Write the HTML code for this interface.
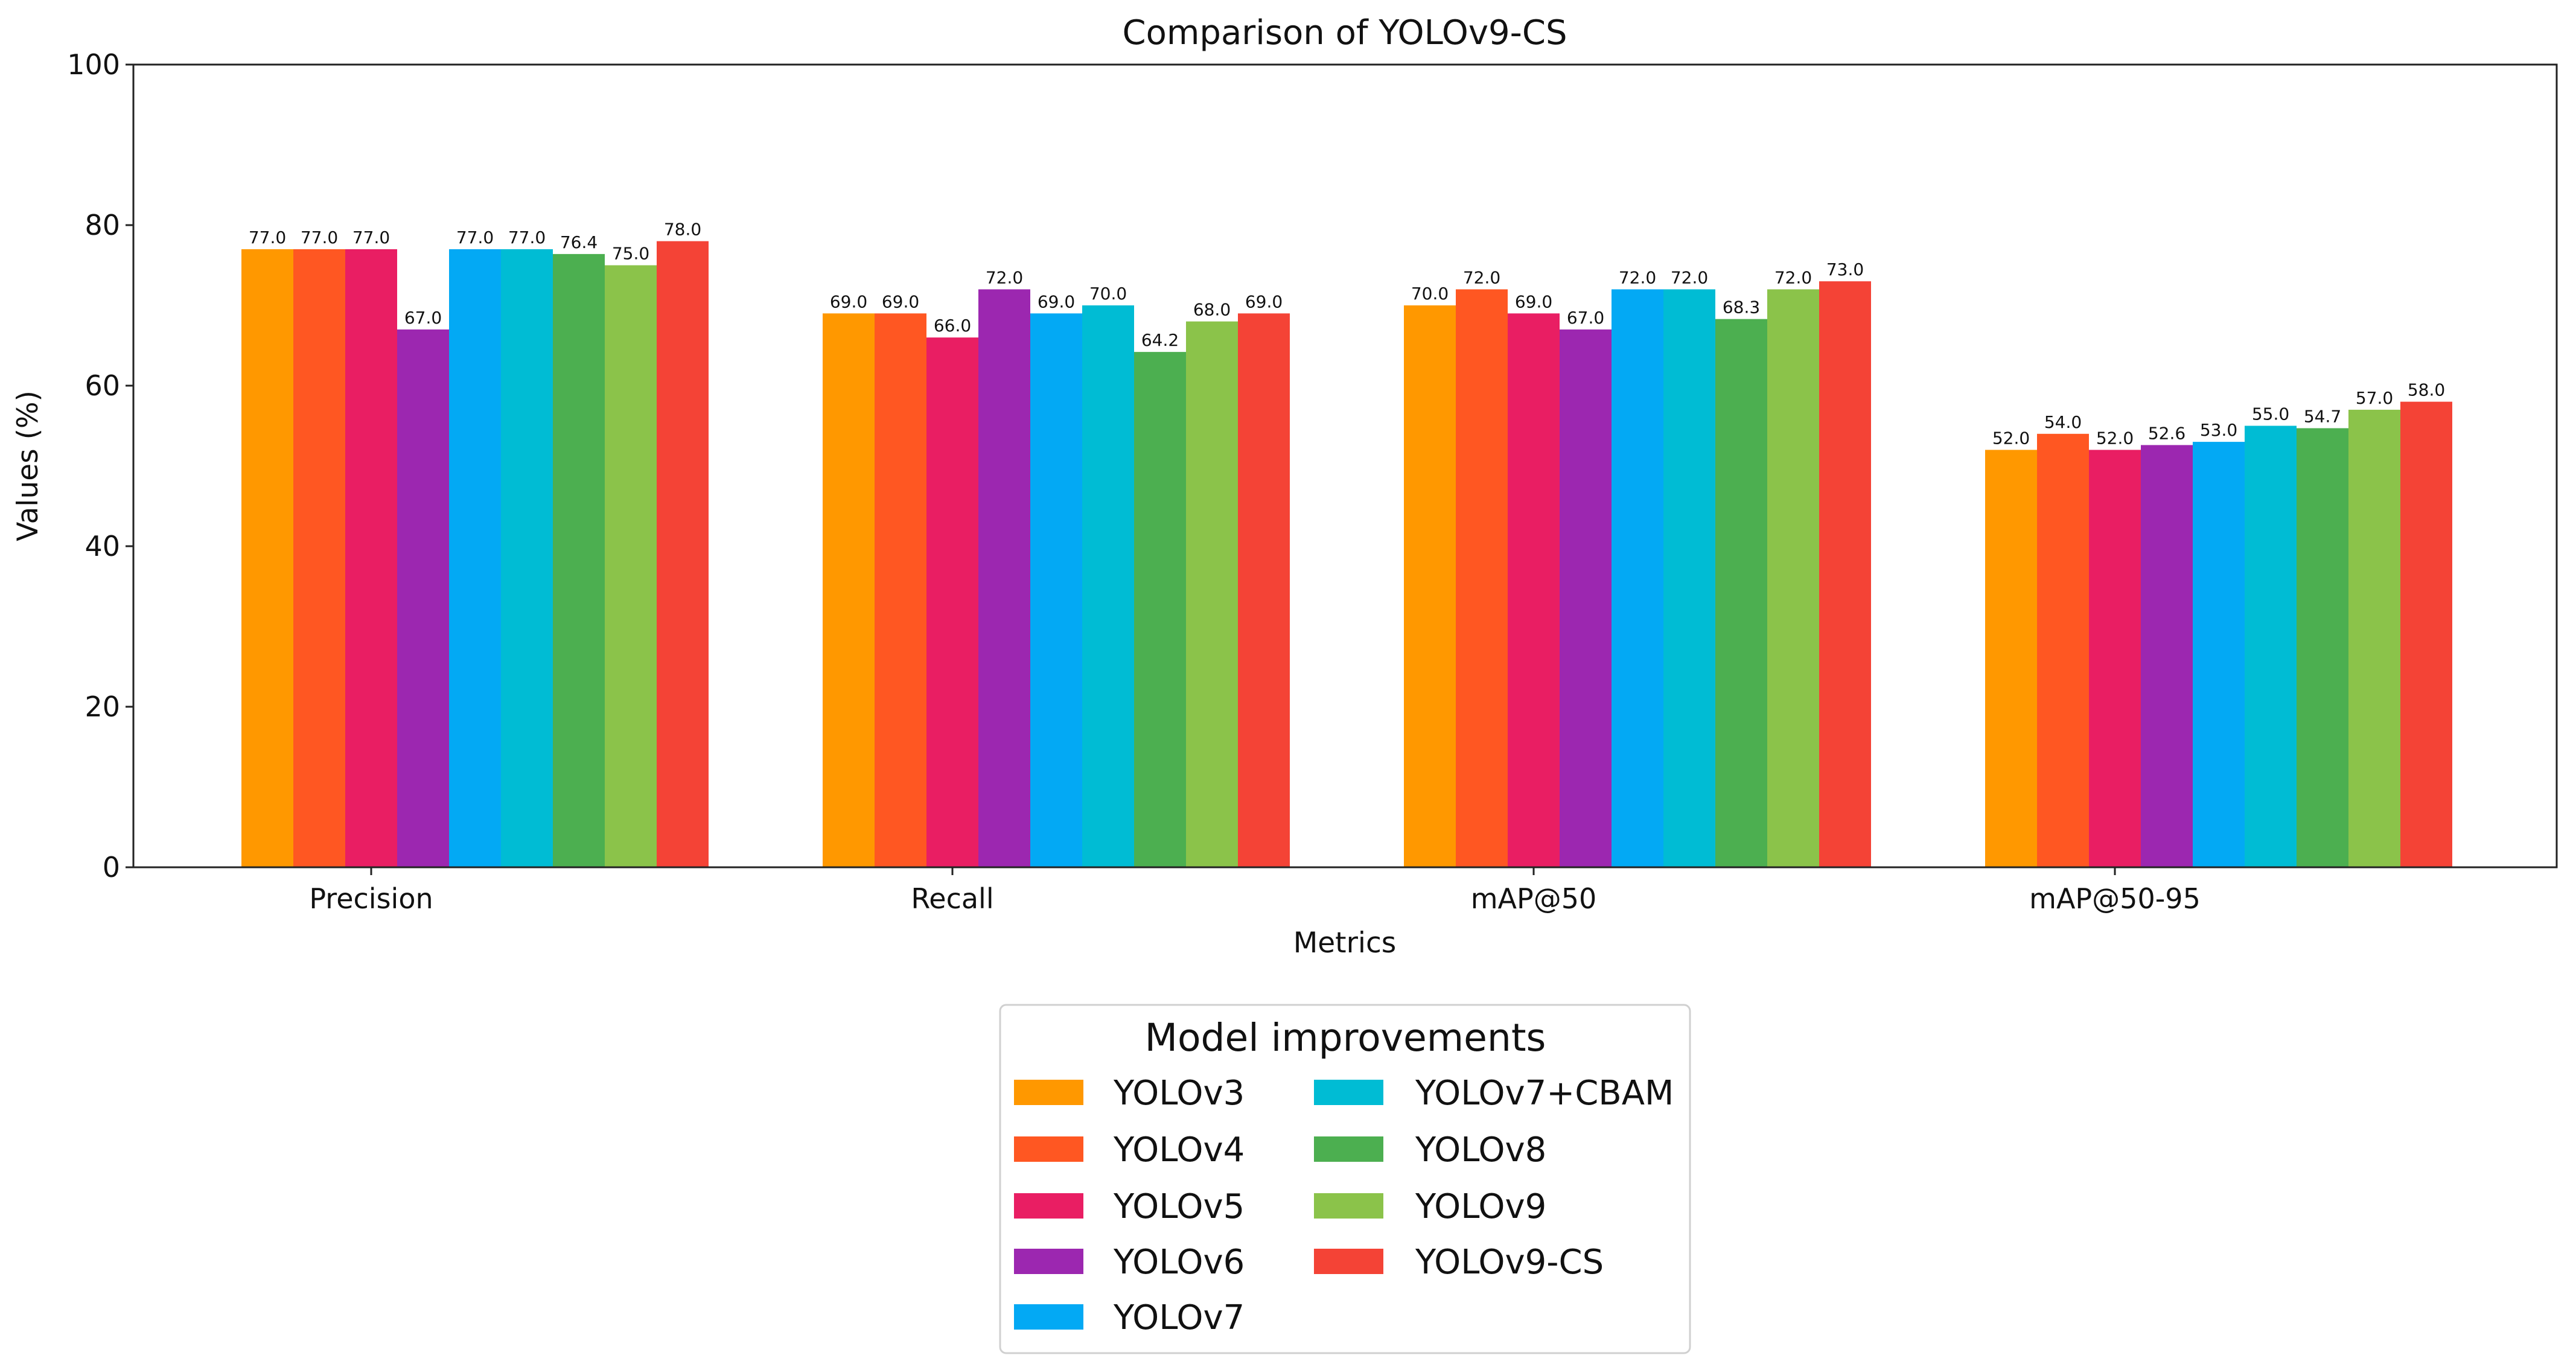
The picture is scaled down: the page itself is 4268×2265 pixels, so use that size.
<!DOCTYPE html>
<html><head><meta charset="utf-8"><style>
html,body{margin:0;padding:0;background:#fff;}
svg{display:block;font-family:"DejaVu Sans","Liberation Sans",sans-serif;}
</style></head><body>
<svg id="chart" width="4268" height="2265" viewBox="0 0 4268 2265" xmlns="http://www.w3.org/2000/svg">
<rect width="4268" height="2265" fill="#fff"/>
<text x="2228" y="73" font-size="56" text-anchor="middle" fill="#111">Comparison of YOLOv9-CS</text>
<g id="plot"></g>
<text x="2228" y="1578" font-size="47" text-anchor="middle" fill="#111">Metrics</text>
<text transform="translate(62,772) rotate(-90)" font-size="47" text-anchor="middle" fill="#111">Values (%)</text>
<g id="legend"></g>
</svg>
<script>
const categories = ["Precision","Recall","mAP@50","mAP@50-95"];
const models = ["YOLOv3","YOLOv4","YOLOv5","YOLOv6","YOLOv7","YOLOv7+CBAM","YOLOv8","YOLOv9","YOLOv9-CS"];
const yolov3 = [77.0,69.0,70.0,52.0];
const yolov4 = [77.0,69.0,72.0,54.0];
const yolov5 = [77.0,66.0,69.0,52.0];
const yolov6 = [67.0,72.0,67.0,52.6];
const yolov7 = [77.0,69.0,72.0,53.0];
const yolov7cbam = [77.0,70.0,72.0,55.0];
const yolov8 = [76.4,64.2,68.3,54.7];
const yolov9 = [75.0,68.0,72.0,57.0];
const yolov9cs = [78.0,69.0,73.0,58.0];
const yTicks = [0,20,40,60,80,100];
const colors = ["#FF9800","#FF5722","#E91E63","#9C27B0","#03A9F4","#00BCD4","#4CAF50","#8BC34A","#F44336"];
const series = [yolov3,yolov4,yolov5,yolov6,yolov7,yolov7cbam,yolov8,yolov9,yolov9cs];

const NS="http://www.w3.org/2000/svg";
const L=221,R=4236,T=107,B=1437;
const x0=615, groupStep=963, barW=86;
function yScale(v){return B-(v/100)*(B-T);}
function xScale(ci){return x0+ci*groupStep;}
function mk(tag,attrs,parent){const e=document.createElementNS(NS,tag);for(const k in attrs)e.setAttribute(k,attrs[k]);parent.appendChild(e);return e;}
const plot=document.getElementById('plot');

series.forEach((vals,si)=>{
  vals.forEach((v,ci)=>{
    const cx=xScale(ci)+(si-2)*barW;
    const r=mk('rect',{x:cx-barW/2,y:yScale(v),width:barW,height:B-yScale(v),fill:colors[si]},plot);
    
    
    const t=mk('text',{x:cx,y:yScale(v)-10,'font-size':28,'text-anchor':'middle',fill:'#111'},plot);
    t.textContent=v.toFixed(1);
    
    
  });
});
// axes frame
const frame=mk('rect',{x:L,y:T,width:R-L,height:B-T,fill:'none',stroke:'#222','stroke-width':3},plot);


yTicks.forEach(v=>{
  const y=yScale(v);
  const tk=mk('line',{x1:L-13,x2:L,y1:y,y2:y,stroke:'#222','stroke-width':3},plot);
  
  
  const t=mk('text',{x:L-22,y:y+16,'font-size':46,'text-anchor':'end',fill:'#111'},plot);
  t.textContent=v;
  
  
});
categories.forEach((c,ci)=>{
  const x=xScale(ci);
  const tk=mk('line',{x1:x,x2:x,y1:B,y2:B+13,stroke:'#222','stroke-width':3},plot);
  
  
  const t=mk('text',{x:x,y:B+68,'font-size':46,'text-anchor':'middle',fill:'#111'},plot);
  t.textContent=c;
  
  
});
// legend
const lg=document.getElementById('legend');
const box=mk('rect',{x:1657,y:1665,width:1143,height:577,rx:10,fill:'#fff',stroke:'#d0d0d0','stroke-width':3},lg);


const lt=mk('text',{x:2229,y:1741,'font-size':63,'text-anchor':'middle',fill:'#111'},lg);
lt.textContent='Model improvements';


const rowsY=[1810,1904,1998,2090,2182];
models.forEach((m,i)=>{
  const col=i<5?0:1,row=i<5?i:i-5;
  const px=col?2177:1680, tx=col?2345:1845, cy=rowsY[row];
  const g=mk('g',{},lg);
  
  
  mk('rect',{x:px,y:cy-21,width:115,height:42,fill:colors[i]},g);
  const t=mk('text',{x:tx,y:cy+20,'font-size':56,fill:'#111'},g);
  t.textContent=m;
});
</script>
</body></html>
